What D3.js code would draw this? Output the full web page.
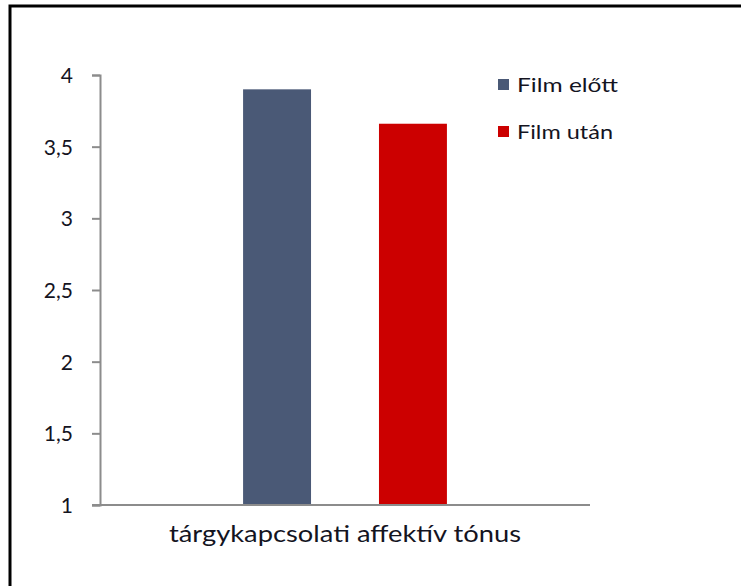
<!DOCTYPE html>
<html>
<head>
<meta charset="utf-8">
<script src="https://cdn.jsdelivr.net/npm/d3@7"></script>
<style>
  html, body { margin: 0; padding: 0; background: #fff; }
  svg { display: block; }
  text { font-family: Lato, "Open Sans", sans-serif; fill: #14141f; }
</style>
</head>
<body>
<svg id="chart" width="741" height="586"></svg>
<script>
const categories = ["tárgykapcsolati affektív tónus"];
const seriesNames = ["Film előtt", "Film után"];
const seriesValues = [3.9, 3.66];
const seriesColors = ["#4a5976", "#cc0000"];
const yTicks = [1, 1.5, 2, 2.5, 3, 3.5, 4];
const yTickLabels = ["1", "1,5", "2", "2,5", "3", "3,5", "4"];

(function () {
const svg = d3.select("#chart");

// outer frame
svg.append("rect")
  .attr("x", 10).attr("y", 6)
  .attr("width", 760).attr("height", 600)
  .attr("fill", "none").attr("stroke", "#000").attr("stroke-width", 3);

const pl = 100, pr = 590, pt = 75, pb = 505;

const y = d3.scaleLinear().domain([1, 4]).range([pb, pt]);
const x0 = d3.scaleBand().domain(categories).range([pl, pr]).padding(0);
const bw = x0.bandwidth();
const x1 = d3.scaleBand().domain(seriesNames)
  .range([bw * 0.292, bw * 0.708]).paddingInner(0.5).paddingOuter(0);

const data = seriesNames.map((s, i) => ({ s, v: seriesValues[i], c: seriesColors[i] }));

// bars
const g = svg.append("g");
categories.forEach(cat => {
  g.selectAll("rect.bar").data(data).enter().append("rect")
    .attr("class", "bar")
    .attr("x", d => x0(cat) + x1(d.s))
    .attr("y", d => y(d.v))
    .attr("width", x1.bandwidth())
    .attr("height", d => y(1) - y(d.v))
    .attr("fill", d => d.c);
});

const font = "Lato, 'Open Sans', sans-serif";

// y axis
const yAxis = d3.axisLeft(y).tickValues(yTicks)
  .tickFormat((d, i) => yTickLabels[i]).tickSize(8).tickPadding(19);
const ya = svg.append("g").attr("transform", `translate(${pl},0)`).call(yAxis);
ya.select(".domain").attr("stroke", "#8c8c8c").attr("stroke-width", 2);
ya.selectAll(".tick line").attr("stroke", "#8c8c8c").attr("stroke-width", 2);
ya.selectAll(".tick text").style("font-size", "21px").style("font-weight", 400)
  .attr("fill", "#14141f").attr("font-family", font).attr("dy", "0.35em");

// x axis
const xAxis = d3.axisBottom(x0).tickSize(0).tickPadding(21);
const xa = svg.append("g").attr("transform", `translate(0,${pb})`).call(xAxis);
xa.select(".domain").attr("stroke", "#8c8c8c").attr("stroke-width", 2)
  .attr("d", `M${pl - 8},0H${pr}`);
xa.selectAll(".tick text").style("font-size", "23px").style("font-weight", 400)
  .attr("fill", "#14141f").attr("font-family", font)
  .attr("textLength", 352).attr("lengthAdjust", "spacingAndGlyphs");

// legend
const legend = svg.append("g");
data.forEach((d, i) => {
  const ly = 85 + i * 47;
  legend.append("rect").attr("x", 498).attr("y", ly - 6).attr("width", 11).attr("height", 11).attr("fill", d.c);
  legend.append("text").attr("x", 517).attr("y", ly).attr("dy", "0.35em")
    .style("font-size", "20px").style("font-weight", 400)
    .attr("textLength", d.s.length === 10 ? 101 : 96).attr("lengthAdjust", "spacingAndGlyphs")
    .text(d.s);
});
})();
</script>
</body>
</html>
